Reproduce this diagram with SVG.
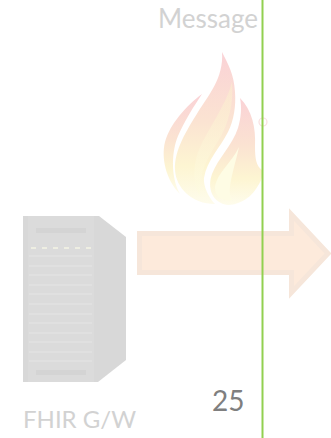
<svg xmlns="http://www.w3.org/2000/svg" width="331" height="438" viewBox="0 0 331 438">
<style>
.lbl{font-family:Lato,"Open Sans","Liberation Sans",sans-serif;fill:#d2d2d2}
.slot{fill:#d4d4d4}
.gap{fill:#e0e0e0}
</style>
<defs>
<linearGradient id="f" x1="0" y1="0" x2="0" y2="1">
<stop offset="0" stop-color="#fad2d6"/><stop offset=".45" stop-color="#fbe3d2"/><stop offset=".75" stop-color="#fdf5d2"/><stop offset="1" stop-color="#fefcec"/>
</linearGradient>
<linearGradient id="g" x1="0" y1="0" x2="0" y2="1">
<stop offset="0" stop-color="#fbeccd"/><stop offset="1" stop-color="#fefce0"/>
</linearGradient>
</defs>
<rect width="331" height="438" fill="#fff"/>
<g id="message"><text class="lbl" x="158" y="28" font-size="26">Message</text></g>
<g id="flame">
<path fill="url(#f)" d="M222 52C228 64 234 74 235 92C236 106 234 120 228 132C220 148 207 160 204 178C203 186 209 198 215 204C192 204 176 188 175 170C174 150 187 130 198 112C208 96 224 78 222 52Z"/>
<path fill="url(#f)" d="M202 94C186 106 170 124 165 142C161 158 166 180 180 194C170 176 172 150 178 136C184 122 194 106 202 94Z"/>
<path fill="url(#f)" d="M240 98C252 110 256 128 255 146C255 158 256 166 262 170L262 178C256 192 246 204 228 205C212 203 207 188 212 174C218 158 232 146 238 128C241 118 242 108 240 98Z"/>
<path fill="#fefce4" d="M239 147C232 162 218 172 215 186C214 196 222 202 232 200C226 190 234 170 239 147Z"/>
<path fill="url(#g)" opacity=".6" d="M232 82C226 106 208 128 198 152C192 170 194 186 200 196C198 172 210 154 220 138C228 124 234 104 232 82Z"/>
<circle cx="263" cy="122" r="4" fill="none" stroke="#f8dfdf" stroke-width="1.200"/>
</g>
<g id="server">
<path fill="#d8d8d8" d="M23 216H99L126 237V360L98 382H23Z"/>
<rect x="28" y="216" width="66" height="166" fill="#dbdbdb"/>
<rect class="slot" x="36" y="228" width="50" height="5"/>
<rect class="slot" x="36" y="370" width="50" height="5"/>
<g fill="#eeeee2">
<rect x="31" y="247" width="5" height="2"/><rect x="42" y="247" width="5" height="2"/><rect x="53" y="247" width="5" height="2"/><rect x="64" y="247" width="5" height="2"/><rect x="75" y="247" width="5" height="2"/><rect x="86" y="247" width="5" height="2"/>
</g>
<g class="gap">
<rect x="29" y="255" width="63" height="2"/><rect x="29" y="265" width="63" height="2"/><rect x="29" y="274" width="63" height="2"/><rect x="29" y="284" width="63" height="2"/><rect x="29" y="293" width="63" height="2"/><rect x="29" y="303" width="63" height="2"/><rect x="29" y="313" width="63" height="2"/><rect x="29" y="322" width="63" height="2"/><rect x="29" y="332" width="63" height="2"/><rect x="29" y="341" width="63" height="2"/><rect x="29" y="351" width="63" height="2"/><rect x="29" y="360" width="63" height="2"/>
</g>
</g>
<g id="gw-label"><text class="lbl" x="23" y="428" font-size="24">FHIR G/W</text></g>
<g id="connectors">
<path fill="#fdeadb" stroke="#f6e6da" stroke-width="5" d="M139.500 233.500H291.500V214.500L328 253.500L291.500 292.500V272.500H139.500Z"/>
<line x1="262.500" y1="0" x2="262.500" y2="438" stroke="#92d050" stroke-width="2"/>
</g>
<g id="page"><text x="212" y="411" font-family="Lato,'Open Sans','Liberation Sans',sans-serif" font-size="28" fill="#7f7f7f">25</text></g>
</svg>
